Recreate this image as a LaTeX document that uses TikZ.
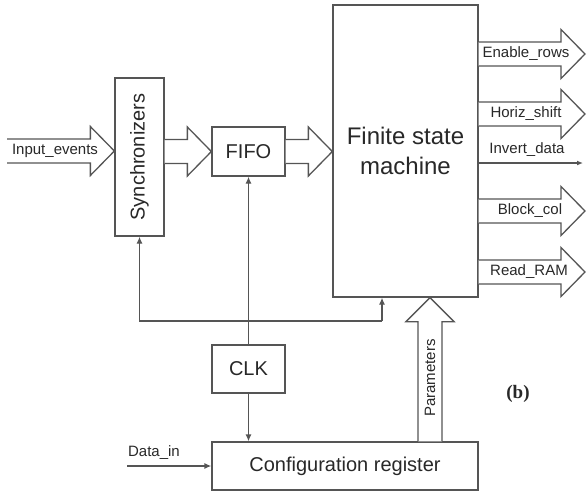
\documentclass[tikz,border=0pt]{standalone}
\usepackage{fontspec}
\setmainfont{Liberation Sans}
\newfontfamily\serifb{Liberation Serif}
\usetikzlibrary{arrows.meta,calc}
\definecolor{ln}{RGB}{85,85,85}
\definecolor{tx}{RGB}{40,40,40}
\tikzset{
  box/.style={draw=ln,line width=1.3pt,fill=white,inner sep=0pt,text=tx,font=\fontsize{20}{24}\selectfont},
  boxtext/.style={text=tx,inner sep=0pt,font=\fontsize{20}{24}\selectfont},
  bigarr/.style={draw=ln,line width=1.3pt,fill=white,line join=miter},
  sig/.style={draw=ln,line width=1.3pt,-{Latex[length=7pt,width=6pt]}},
  lbl/.style={text=tx,font=\fontsize{15}{18}\selectfont,inner sep=0pt},
}
\newcommand\harrow[2]{%
  \draw[bigarr] let \p1=(#1), \p2=(#2) in
    (\x1,\y2+12pt) -- (\x2-24pt,\y2+12pt) -- (\x2-24pt,\y2+24.5pt) -- (\x2,\y2)
    -- (\x2-24pt,\y2-24.5pt) -- (\x2-24pt,\y2-12pt) -- (\x1,\y2-12pt);}
\begin{document}
\begin{tikzpicture}[x=1pt,y=-1pt]
\useasboundingbox (0,0) rectangle (587,493);
% boxes
\node[box,minimum width=49pt,minimum height=158pt] (sync) at (139.5,157) {};
\node[boxtext,rotate=90] (synctext) at (sync.center) {Synchronizers};
\node[box,minimum width=73pt,minimum height=49pt] (fifo) at (248.5,151.5) {FIFO};
\node[box,minimum width=145pt,minimum height=292pt,align=center,font=\fontsize{24}{30}\selectfont] (fsm) at (405.5,151) {Finite state\\machine};
\node[box,minimum width=73pt,minimum height=48pt] (clk) at (248.5,369) {CLK};
\node[box,minimum width=266pt,minimum height=48pt] (conf) at (345,466) {Configuration register};
% big arrows
\coordinate (inev) at (7,151);
\harrow{inev}{sync.west |- inev}
\node[lbl] (inlbl) at (55,151) {Input\_events};
\harrow{sync.east |- fifo.west}{fifo.west}
\harrow{fifo.east}{fsm.west |- fifo.east}
% outputs
\coordinate (o1) at (585,54);
\coordinate (o2) at (585,114);
\coordinate (o3) at (583,163);
\coordinate (o4) at (585,211);
\coordinate (o5) at (585,272);
\harrow{fsm.east |- o1}{o1}
\harrow{fsm.east |- o2}{o2}
\harrow{fsm.east |- o4}{o4}
\harrow{fsm.east |- o5}{o5}
\node[lbl] (l1) at (526,54) {Enable\_rows};
\node[lbl] (l2) at (526,114) {Horiz\_shift};
\node[lbl] (l4) at (530,211) {Block\_col};
\node[lbl] (l5) at (529,272) {Read\_RAM};
\draw[sig,-{Latex[length=6pt,width=5pt]}] (fsm.east |- o3) -- (o3);
\node[lbl] (l3) at (527,150) {Invert\_data};
% clock and feedback
\coordinate (fb) at (382,321);
\draw[sig] (clk.north) -- (fifo.south);
\draw[sig] (fb) -| (sync.south);
\draw[sig] (fb) -- (fb |- fsm.south);
\draw[sig] (clk.south) -- (clk.south |- conf.north);
% data in
\coordinate (din) at (127,466);
\draw[sig] (din) -- (conf.west);
\node[lbl] (dinlbl) at (154,453) {Data\_in};
% parameters
\draw[bigarr] let \p1=(conf.north), \p2=(fsm.south) in
  (430-12,\y1) -- (430-12,\y2-24pt) -- (430-24,\y2-24pt) -- (430,\y2)
  -- (430+24,\y2-24pt) -- (430+12,\y2-24pt) -- (430+12,\y1);
\node[lbl,rotate=90] (par) at (430,378) {Parameters};
\node[text=tx,font=\serifb\bfseries\fontsize{19}{22}\selectfont] (b) at (518,394) {(b)};
\end{tikzpicture}
\end{document}
